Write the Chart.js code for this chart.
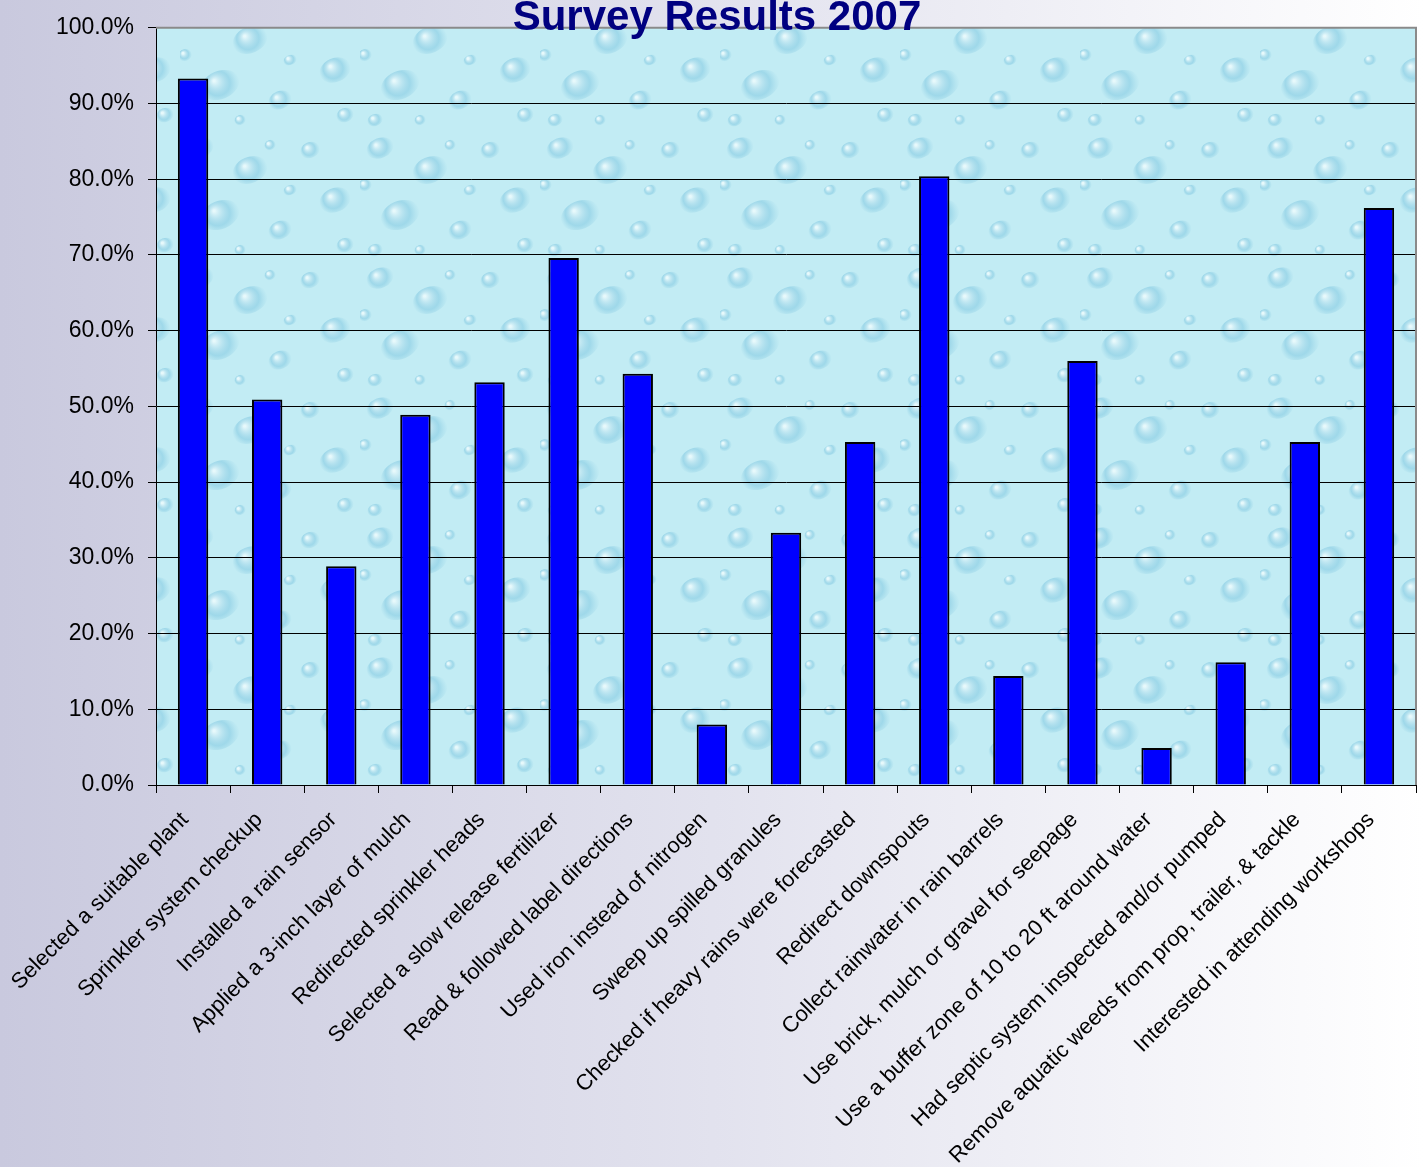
<!DOCTYPE html>
<html>
<head>
<meta charset="utf-8">
<script src="https://cdn.jsdelivr.net/npm/chart.js@4"></script>
<style>
    body { margin: 0; width: 1425px; height: 1167px; overflow: hidden;
           background: linear-gradient(to right, #c9c9de 0%, #e2e2ee 50%, #ffffff 100%); }
    #wrap { position: relative; width: 1425px; height: 1167px; }
    #title { position: absolute; left: 0; width: 1434px; top: -8px; text-align: center;
             font: bold 42px "Liberation Sans", Arial, sans-serif; color: #000080; z-index: 2; }
</style>
</head>
<body>
<div id="wrap">
    <canvas id="survey" width="1425" height="1167"></canvas>
    <div id="title">Survey Results 2007</div>
</div>
<script>
const categories = [
    "Selected a suitable plant",
    "Sprinkler system checkup",
    "Installed a rain sensor",
    "Applied a 3-inch layer of mulch",
    "Redirected sprinkler heads",
    "Selected a slow release fertilizer",
    "Read & followed label directions",
    "Used iron instead of nitrogen",
    "Sweep up spilled granules",
    "Checked if heavy rains were forecasted",
    "Redirect downspouts",
    "Collect rainwater in rain barrels",
    "Use brick, mulch or gravel for seepage",
    "Use a buffer zone of 10 to 20 ft around water",
    "Had septic system inspected and/or pumped",
    "Remove aquatic weeds from prop, trailer, & tackle",
    "Interested in attending workshops"
];
const percents = [93.3, 50.9, 28.9, 48.9, 53.2, 69.6, 54.3, 8.0, 33.3, 45.3, 80.4, 14.4, 56.0, 4.9, 16.2, 45.3, 76.2];

// water drop texture for the plot area
function waterPattern(ctx) {
    let tile = document.createElement("canvas");
    tile.width = 180; tile.height = 130;
    let t = tile.getContext("2d");
    t.fillStyle = "#c2ecf4";
    t.fillRect(0, 0, 180, 130);
    let drops = [[20, 18, 14, 10], [70, 40, 18, 13], [130, 20, 10, 8], [155, 70, 16, 12], [40, 85, 20, 14],
                 [100, 100, 12, 9], [15, 120, 8, 6], [110, 60, 7, 5], [165, 115, 9, 7], [60, 120, 6, 5],
                 [90, 15, 6, 5], [5, 55, 7, 6]];
    for (let d of drops) {
        let g = t.createRadialGradient(d[0] - d[2] * 0.3, d[1] - d[3] * 0.3, 1, d[0], d[1], d[2]);
        g.addColorStop(0, "rgba(235,250,252,0.9)");
        g.addColorStop(0.6, "rgba(130,200,225,0.55)");
        g.addColorStop(1, "rgba(150,210,230,0)");
        t.fillStyle = g;
        t.beginPath();
        t.ellipse(d[0], d[1], d[2], d[3], -0.4, 0, Math.PI * 2);
        t.fill();
    }
    return ctx.createPattern(tile, "repeat");
}

const plotBackground = {
    id: "plotBackground",
    beforeDraw(chart) {
        const { ctx, chartArea: a } = chart;
        ctx.save();
        ctx.fillStyle = waterPattern(ctx);
        ctx.fillRect(a.left, a.top, a.right - a.left, a.bottom - a.top);
        ctx.restore();
    },
    afterDraw(chart) {
        const { ctx, chartArea: a } = chart;
        ctx.save();
        ctx.strokeStyle = "#8a8a8a";
        ctx.lineWidth = 2;
        ctx.beginPath();
        ctx.moveTo(a.left, a.top);
        ctx.lineTo(a.right, a.top);
        ctx.lineTo(a.right, a.bottom);
        ctx.stroke();
        ctx.restore();
    }
};

const ctx = document.getElementById("survey");

new Chart(ctx, {
    type: "bar",
    data: {
        labels: categories,
        datasets: [{
            data: percents,
            backgroundColor: "#0000ff",
            borderColor: "#000000",
            borderWidth: 2,
            barPercentage: 0.41,
            categoryPercentage: 1.0
        }]
    },
    options: {
        responsive: false,
        animation: false,
        layout: { padding: { top: 26, right: 9, left: 0, bottom: 0 } },
        plugins: {
            legend: { display: false },
            tooltip: { enabled: false }
        },
        scales: {
            x: {
                grid: { drawOnChartArea: false, drawTicks: true, tickLength: 8, color: "#000" },
                border: { color: "#000", width: 1 },
                ticks: {
                    autoSkip: false,
                    maxRotation: 45,
                    minRotation: 45,
                    color: "#000",
                    padding: 14,
                    labelOffset: -8,
                    font: { family: "Liberation Sans, Arial", size: 22 }
                },
                afterFit(scale) { scale.height = 1167 - 785; }
            },
            y: {
                min: 0,
                max: 100,
                grid: { color: "#000", lineWidth: 1, tickLength: 8 },
                border: { color: "#000", width: 1 },
                ticks: {
                    stepSize: 10,
                    color: "#000",
                    padding: 14,
                    font: { family: "Liberation Sans, Arial", size: 23 },
                    callback: v => v.toFixed(1) + "%"
                },
                afterFit(scale) { scale.width = 156; }
            }
        }
    },
    plugins: [plotBackground]
});
</script>
</body>
</html>
